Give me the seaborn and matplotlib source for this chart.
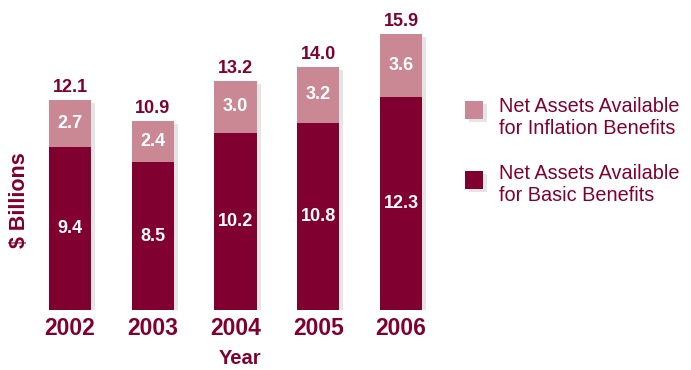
import matplotlib
matplotlib.use("Agg")
import matplotlib.pyplot as plt
import matplotlib.patheffects as pe
from matplotlib.patches import Rectangle
import seaborn as sns

# Data (in $ billions)
years = ['2002', '2003', '2004', '2005', '2006']
basic = [9.4, 8.5, 10.2, 10.8, 12.3]
inflation = [2.7, 2.4, 3.0, 3.2, 3.6]
totals = [12.1, 10.9, 13.2, 14.0, 15.9]
legend_labels = ['Net Assets Available\nfor Inflation Benefits',
                 'Net Assets Available\nfor Basic Benefits']

dark = '#80002f'
light = '#c98893'

sns.set_style('white')
plt.rcParams['font.family'] = ['Liberation Sans', 'DejaVu Sans']

fig = plt.figure(figsize=(6.91, 3.70), dpi=100)
W, H = 691, 370
ax = fig.add_axes([28.6 / W, 60 / H, 413.75 / W, 310 / H])

shadow = [pe.SimplePatchShadow(offset=(3, -2), shadow_rgbFace='#999999', alpha=0.25), pe.Normal()]

# total bar in light colour, basic part drawn on top in dark colour
sns.barplot(x=years, y=totals, color=light, saturation=1, width=0.51, ax=ax)
sns.barplot(x=years, y=basic, color=dark, saturation=1, width=0.51, ax=ax)
for i, p in enumerate(ax.patches):
    p.set_edgecolor('none')
    if i < len(years):
        p.set_path_effects(shadow)

ax.set_xlim(-0.5, 4.5)
ax.set_ylim(0, 17.86)
sns.despine(ax=ax, left=True, bottom=True)
ax.set_yticks([])
ax.set_xticks([])
ax.set_xlabel('')
ax.set_ylabel('')

for i in range(len(years)):
    ax.text(i, basic[i] / 2, f'{basic[i]:.1f}', ha='center', va='center',
            color='white', fontsize=13, fontweight='bold')
    ax.text(i, basic[i] + inflation[i] / 2, f'{inflation[i]:.1f}', ha='center', va='center',
            color='white', fontsize=13, fontweight='bold')
    ax.annotate(f'{totals[i]:.1f}', (i, totals[i]), xytext=(0, 3), textcoords='offset points',
                ha='center', va='bottom', color=dark, fontsize=13, fontweight='bold')
    ax.annotate(years[i], (i, 0), xytext=(0, -5), textcoords='offset points',
                ha='center', va='top', color=dark, fontsize=16.5, fontweight='bold')

fig.text(240 / W, 1 - 358 / H, 'Year', ha='center', va='center', color=dark,
         fontsize=14.5, fontweight='bold')
fig.text(20 / W, 1 - 200 / H, '$ Billions', ha='center', va='center', color=dark,
         fontsize=15.5, fontweight='bold', rotation=90)

# legend
for (y0, col), lab in zip([(101, light), (171, dark)], legend_labels):
    r = Rectangle((465 / W, 1 - (y0 + 18) / H), 18 / W, 18 / H, transform=fig.transFigure,
                  facecolor=col, edgecolor='none')
    r.set_path_effects(shadow)
    fig.add_artist(r)
    fig.text(499 / W, 1 - (y0 - 4 if y0 < 150 else y0 - 7) / H, lab, ha='left', va='top',
             color=dark, fontsize=14.3, linespacing=1.22)

fig.savefig('out.png', dpi=100)
